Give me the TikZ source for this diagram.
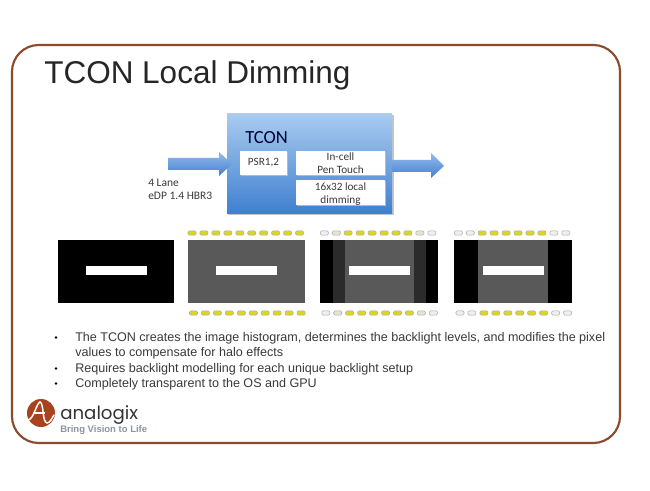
\documentclass[tikz,border=0pt]{standalone}
\usepackage{fontspec}
\setmainfont{Liberation Sans}
\newfontfamily\calib{Carlito}
\newfontfamily\logofont{Poppins}
\newcommand{\px}[1]{\pgfmathparse{#1*0.75}\fontsize{\pgfmathresult}{\pgfmathresult}\selectfont}
\definecolor{framec}{HTML}{8E4A2E}
\definecolor{ledy}{HTML}{D8D820}
\definecolor{ledg}{HTML}{EFEFEF}
\definecolor{ledt}{HTML}{E6E4CC}
\definecolor{panelg}{HTML}{595959}
\definecolor{paneld}{HTML}{2B2B2B}
\definecolor{txt}{HTML}{3A3A3A}
\definecolor{logoc}{HTML}{A8431F}
\definecolor{tagc}{HTML}{8A96A2}
\definecolor{boxtop}{HTML}{A9CBF0}
\definecolor{boxbot}{HTML}{3F7FCF}
\definecolor{arrtop}{HTML}{94BBEC}
\definecolor{arrbot}{HTML}{4480D0}
\tikzset{
  x=0.75pt,y=-0.75pt,
  inbox/.style={draw=none,fill=white,inner sep=0pt,anchor=north west},
  boxtext/.style={inner sep=0pt,align=center,text=txt,font=\calib\fontsize{8.4}{9.9}\selectfont},
  lbl/.style={inner sep=0pt,anchor=base west,text=txt},
  bar/.style={fill=white,draw=none},
  blockarrow/.style={top color=arrtop,bottom color=arrbot,draw=none},
  boxshadow/.style={fill=gray!55,draw=none},
}
\newcommand{\ledrow}[3]{%
  \foreach \i/\c in {#3}{
    \path[fill=\c,draw=gray!65,line width=0.4pt,rounded corners=1pt]
      ({#1+11.95*\i-4},{#2-2.2}) rectangle ({#1+11.95*\i+4},{#2+2.2});
  }
}
\begin{document}
\begin{tikzpicture}
\useasboundingbox (0,0) rectangle (650,491);
\fill[white] (0,0) rectangle (650,491);
% frame
\draw[framec,line width=1.6pt,rounded corners=20] (12,45) rectangle (620,443);
% title
\node[lbl,text=black!85] (title) at (44,84) {\px{31.5}TCON Local Dimming};
% TCON block
\path[fill=gray!45] (228,115.5) rectangle (393.5,215.5);
\path[top color=boxtop,bottom color=boxbot] (227,114) rectangle (392,214);
\node[inner sep=0pt,anchor=base west,text=black!80!blue] (tconlbl) at (245,144) {\calib\px{18.5}TCON};
\fill[boxshadow] (241,152) rectangle (288,176.5);
\fill[boxshadow] (297,152) rectangle (386,176.5);
\fill[boxshadow] (297,181) rectangle (386,206.5);
\node[inbox,minimum width=35.2pt,minimum height=18pt] (psr) at (240,151) {};
\node[inbox,minimum width=66.7pt,minimum height=18pt] (pen) at (296,151) {};
\node[inbox,minimum width=66.7pt,minimum height=18.7pt] (dim) at (296,180) {};
\node[boxtext] (psrt) at (263.5,163) {PSR1,2};
\node[boxtext] (pent) at (340.5,163.5) {In-cell\\Pen Touch};
\node[boxtext] (dimt) at (340.5,194) {16x32 local\\dimming};
% arrows
\path[blockarrow]
  (168,158) -- (219,158) -- (219,152) -- (232,164) -- (219,176) -- (219,170) -- (168,170) -- cycle;
\path[blockarrow]
  (392,160) -- (431,160) -- (431,153) -- (444,166) -- (431,178) -- (431,172) -- (392,172) -- cycle;
\node[lbl] (lane) at (148,186.5) {\calib\px{11.5}4 Lane};
\node[lbl] (edp) at (148,200) {\calib\px{11.5}eDP 1.4 HBR3};
% panels
\fill[black] (58,240) rectangle (174,303);
\fill[bar] (86,266) rectangle (147,275);
\fill[panelg] (188,240) rectangle (305,303);
\fill[bar] (216,266) rectangle (277,275);
\fill[black] (320,240) rectangle (438,303);
\fill[paneld] (333,240) rectangle (426,303);
\fill[panelg] (345,240) rectangle (414,303);
\fill[bar] (349,266) rectangle (410,275);
\fill[black] (454,240) rectangle (572,303);
\fill[panelg] (478,240) rectangle (548,303);
\fill[bar] (483,266) rectangle (544,275);
% LEDs
\ledrow{192}{233}{0/ledy,1/ledy,2/ledy,3/ledy,4/ledy,5/ledy,6/ledy,7/ledy,8/ledy,9/ledy}
\ledrow{193.5}{313}{0/ledy,1/ledy,2/ledy,3/ledy,4/ledy,5/ledy,6/ledy,7/ledy,8/ledy,9/ledy}
\ledrow{324.3}{233}{0/ledg,1/ledt,2/ledy,3/ledy,4/ledy,5/ledy,6/ledy,7/ledy,8/ledt,9/ledg}
\ledrow{325.8}{313}{0/ledg,1/ledt,2/ledy,3/ledy,4/ledy,5/ledy,6/ledy,7/ledy,8/ledt,9/ledg}
\ledrow{458.3}{233}{0/ledg,1/ledg,2/ledy,3/ledy,4/ledy,5/ledy,6/ledy,7/ledy,8/ledg,9/ledg}
\ledrow{460}{313}{0/ledg,1/ledg,2/ledy,3/ledy,4/ledy,5/ledy,6/ledy,7/ledy,8/ledg,9/ledg}
% bullets
\foreach \yy in {342,373,388}{\fill[black] (56,\yy-4.5) circle (1.4);}
\node[lbl] (t1) at (75,342) {\px{12.56}The TCON creates the image histogram, determines the backlight levels, and modifies the pixel};
\node[lbl] (t2) at (75,357) {\px{12.56}values to compensate for halo effects};
\node[lbl] (t3) at (75,373) {\px{12.56}Requires backlight modelling for each unique backlight setup};
\node[lbl] (t4) at (75,388) {\px{12.56}Completely transparent to the OS and GPU};
% logo
\fill[logoc] (41,413) circle (14);
\draw[white,line width=1.1pt,line cap=round] (28,420) .. controls (34,419) and (36,404) .. (40,402) .. controls (44,403) and (42,422) .. (47,423) .. controls (50,423) and (52,418) .. (54,415);
\draw[white,line width=1pt] (33,413) -- (45,413);
\node[inner sep=0pt,anchor=base west,text=black!80] (logo) at (60,420) {\logofont\px{18.2}analogix};
\node[inner sep=0pt,anchor=base west,text=tagc] (tag) at (60,433) {\bfseries\px{9.5}Bring Vision to Life};
\end{tikzpicture}
\end{document}
